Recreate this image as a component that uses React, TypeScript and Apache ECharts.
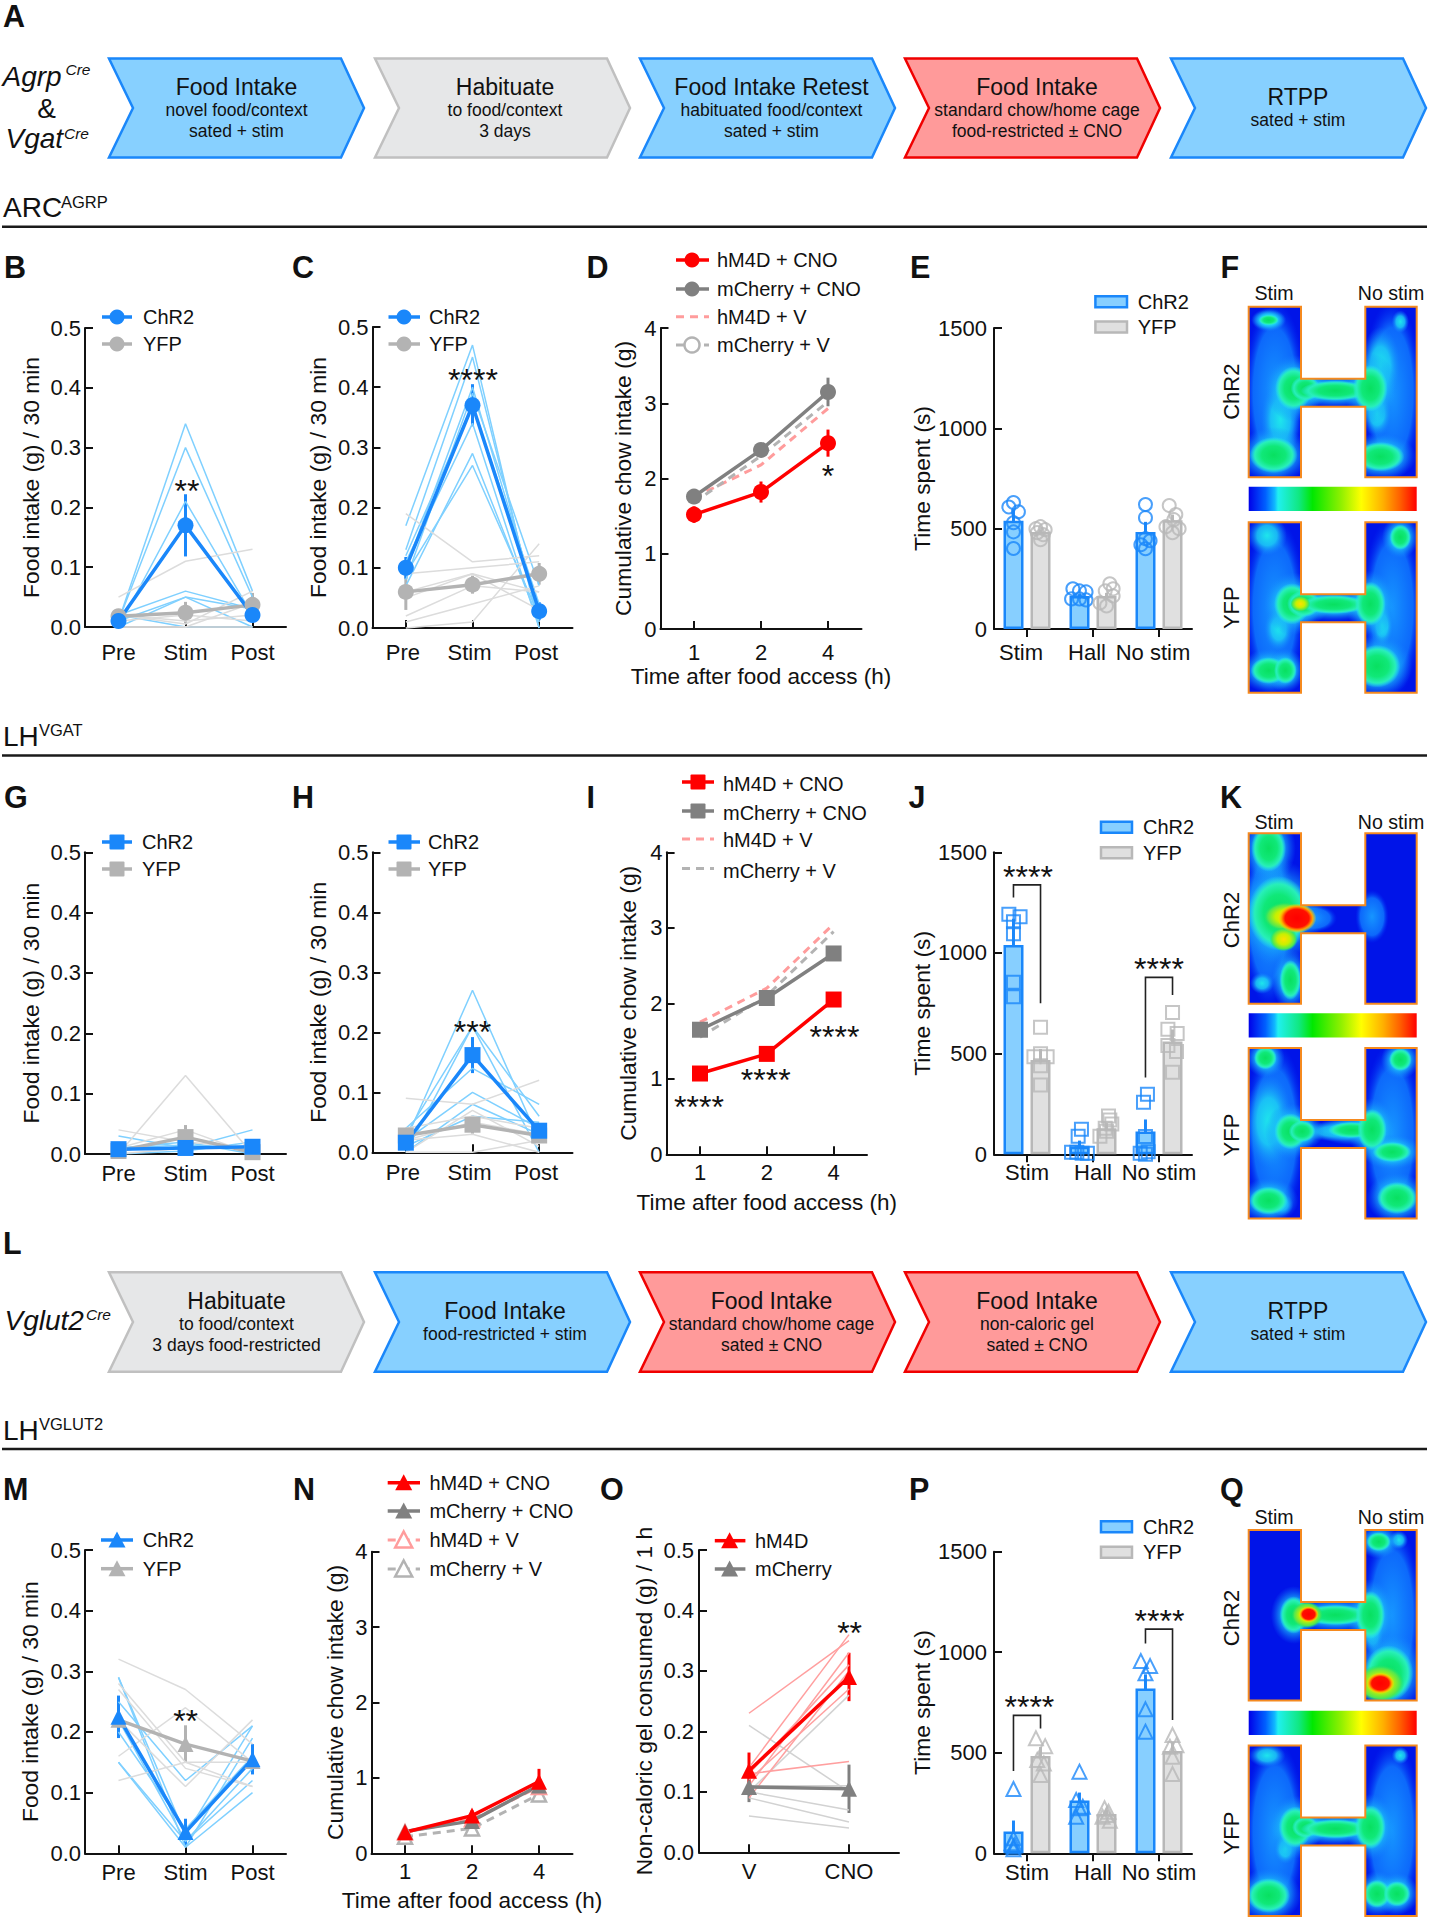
import React, { useEffect, useRef } from "react";
import * as echarts from "echarts";

const FONT = '"Liberation Sans", Arial, Helvetica, sans-serif';
const INK = "#111111";
const BLUE = "#1a87fa";
const LIGHT_BLUE = "#7fd0ff";
const GREY = "#b3b3b3";
const LIGHT_GREY = "#dcdcdc";
const RED = "#ff0000";
const LIGHT_RED = "#ff9f9f";
const DARK = "#808080";
const PINK = "#ff9c9c";

const phases = ["Pre", "Stim", "Post"];
const hours = ["1", "2", "4"];
const zones = ["Stim", "Hall", "No stim"];
const drugs = ["V", "CNO"];

// Panel B
const bChR2Lines = [[0.01, 0.34, 0.06], [0.01, 0.3, 0.05], [0.0, 0.21, 0.02], [0.02, 0.06, 0.03], [0.0, 0.05, 0.0], [0.01, 0.05, 0.03], [0.02, 0.0, 0.0]];
const bYfpLines = [[0.05, 0.11, 0.13], [0.02, 0.01, 0.02], [0.0, 0.0, 0.04], [0.01, 0.02, 0.01], [0.0, 0.0, 0.0], [0.02, 0.005, 0.06]];
const bChR2Mean = [0.01, 0.17, 0.02];
const bChR2Err = [0.006, 0.052, 0.012];
const bYfpMean = [0.018, 0.024, 0.037];
const bYfpErr = [0.01, 0.018, 0.02];
// Panel C
const cChR2Lines = [[0.17, 0.47, 0.0], [0.13, 0.45, 0.01], [0.1, 0.4, 0.03], [0.08, 0.39, 0.07], [0.11, 0.34, 0.0], [0.07, 0.29, 0.01], [0.09, 0.27, 0.02], [0.12, 0.37, 0.04]];
const cYfpLines = [[0.19, 0.11, 0.12], [0.09, 0.1, 0.11], [0.06, 0.09, 0.03], [0.02, 0.07, 0.06], [0.01, 0.04, 0.07], [0.0, 0.01, 0.14], [0.05, 0.09, 0.06]];
const cChR2Mean = [0.1, 0.37, 0.028];
const cChR2Err = [0.018, 0.035, 0.015];
const cYfpMean = [0.06, 0.072, 0.09];
const cYfpErr = [0.03, 0.015, 0.018];
// Panel D
const dRedMean = [1.52, 1.82, 2.47];
const dRedErr = [0.11, 0.14, 0.18];
const dDarkMean = [1.76, 2.38, 3.15];
const dDarkErr = [0.1, 0.08, 0.19];
const dPinkMean = [1.75, 2.18, 2.93];
const dGreyMean = [1.68, 2.3, 3.02];
// Panel E
const eChR2Mean = [540, 164, 484];
const eChR2Err = [55, 10, 50];
const eYfpMean = [484, 165, 542];
const eYfpErr = [12, 15, 28];
const eChR2Pts = [
  [[0, 630], [-0.07, 608], [0.075, 584], [0, 530], [0, 484], [0, 401]],
  [[-0.1, 200], [0, 190], [0.1, 185], [-0.12, 150], [0, 150], [0.1, 145]],
  [[0, 620], [0, 555], [0, 450], [-0.07, 420], [0.07, 440], [0, 400]],
];
const eYfpPts = [
  [[0, 510], [-0.07, 500], [0.07, 495], [-0.05, 480], [0.04, 470], [0, 445]],
  [[0.05, 225], [0.1, 200], [-0.02, 190], [0.1, 165], [-0.1, 130], [0, 115]],
  [[-0.05, 615], [0.05, 570], [0.02, 545], [-0.1, 510], [0, 480], [0.1, 500]],
];
// Panel G
const gChR2Lines = [[0.03, 0.01, 0.04], [0.01, 0.02, 0.0], [0.0, 0.005, 0.02], [0.01, 0.015, 0.01]];
const gYfpLines = [[0.0, 0.13, 0.0], [0.04, 0.02, 0.01], [0.01, 0.04, 0.0], [0.0, 0.01, 0.01]];
const gChR2Mean = [0.008, 0.01, 0.012];
const gChR2Err = [0.004, 0.006, 0.006];
const gYfpMean = [0.005, 0.028, 0.003];
const gYfpErr = [0.004, 0.02, 0.003];
// Panel H
const hChR2Lines = [[0.02, 0.27, 0.02], [0.03, 0.21, 0.0], [0.04, 0.14, 0.08], [0.0, 0.21, 0.06], [0.02, 0.1, 0.04], [0.0, 0.08, 0.03], [0.01, 0.06, 0.05]];
const hYfpLines = [[0.09, 0.08, 0.12], [0.0, 0.07, 0.01], [0.02, 0.05, 0.03], [0.02, 0.03, 0.0], [0.0, 0.0, 0.02], [0.04, 0.06, 0.04]];
const hChR2Mean = [0.016, 0.162, 0.036];
const hChR2Err = [0.01, 0.03, 0.01];
const hYfpMean = [0.028, 0.046, 0.028];
const hYfpErr = [0.01, 0.015, 0.01];
// Panel I
const iRedMean = [1.07, 1.33, 2.05];
const iDarkMean = [1.65, 2.07, 2.66];
const iPinkMean = [1.75, 2.2, 3.05];
const iGreyMean = [1.55, 2.1, 2.95];
const iRedErr = [0.03, 0.03, 0.04];
const iDarkErr = [0.05, 0.04, 0.05];
// Panel J
const jChR2Mean = [1040, 38, 113];
const jChR2Err = [130, 30, 60];
const jYfpMean = [468, 130, 560];
const jYfpErr = [55, 25, 60];
const jChR2Pts = [
  [[-0.07, 1192], [0.1, 1180], [0, 1155], [0, 1095], [0, 855], [0, 783]],
  [[0.03, 125], [-0.02, 90], [-0.12, 10], [-0.04, 10], [0.04, 5], [0.12, 5]],
  [[0.03, 298], [-0.03, 258], [0, 88], [0.04, 13], [-0.08, 5], [0, 0]],
];
const jYfpPts = [
  [[0, 631], [0, 500], [-0.1, 485], [0.1, 485], [0, 440], [0, 344]],
  [[0.03, 190], [0.05, 170], [0.08, 150], [-0.02, 130], [0, 115], [-0.1, 90]],
  [[0, 704], [-0.07, 621], [0.07, 600], [-0.07, 540], [0.06, 510], [0, 407]],
];
const jBrackets = [[0.295, 1276, 1338, 0.705, 750], [2.295, 381, 879, 2.705, 791]];
// Panel M
const mChR2Lines = [[0.29, 0.03, 0.21], [0.29, 0.01, 0.19], [0.22, 0.02, 0.14], [0.15, 0.01, 0.1], [0.15, 0.02, 0.12], [0.25, 0.12, 0.21], [0.2, 0.04, 0.16]];
const mYfpLines = [[0.32, 0.27, 0.18], [0.27, 0.14, 0.11], [0.16, 0.24, 0.15], [0.12, 0.15, 0.15], [0.22, 0.11, 0.22], [0.28, 0.15, 0.11]];
const mChR2Mean = [0.225, 0.035, 0.155];
const mChR2Err = [0.035, 0.022, 0.025];
const mYfpMean = [0.22, 0.18, 0.152];
const mYfpErr = [0.03, 0.031, 0.015];
// Panel N
const nRedMean = [0.28, 0.5, 0.95];
const nRedErr = [0.05, 0.07, 0.17];
const nDarkMean = [0.29, 0.43, 0.9];
const nDarkErr = [0.04, 0.05, 0.1];
const nPinkMean = [0.28, 0.45, 0.88];
const nGreyMean = [0.22, 0.33, 0.78];
// Panel O
const oRedLines = [[0.23, 0.35], [0.13, 0.15], [0.14, 0.36], [0.11, 0.33], [0.09, 0.3], [0.12, 0.27], [0.13, 0.31]];
const oGreyLines = [[0.21, 0.1], [0.1, 0.26], [0.1, 0.07], [0.09, 0.05], [0.06, 0.04], [0.11, 0.11]];
const oRedMean = [0.135, 0.29];
const oRedErr = [0.03, 0.04];
const oDarkMean = [0.108, 0.105];
const oDarkErr = [0.025, 0.04];
// Panel P
const pChR2Mean = [108, 262, 820];
const pChR2Err = [55, 40, 70];
const pYfpMean = [484, 195, 509];
const pYfpErr = [45, 20, 45];
const pChR2Pts = [
  [[0, 320], [0, 75], [-0.03, 50], [0.02, 40], [0, 33], [0, 20]],
  [[0, 406], [-0.05, 265], [0.05, 232], [0, 224], [-0.05, 182]],
  [[-0.07, 956], [0.07, 931], [0, 895], [0, 716], [0, 605]],
];
const pYfpPts = [
  [[-0.07, 572], [0.07, 533], [-0.05, 464], [0.05, 447], [0, 390]],
  [[-0.03, 224], [0.03, 207], [0, 190], [-0.06, 182], [0.05, 162]],
  [[0, 588], [0.06, 538], [-0.04, 530], [0, 480], [0, 394]],
];
const pBrackets = [[0.295, 409, 686, 0.705, 621], [2.295, 1044, 1115, 2.705, 663]];

// Schematic rows
const row1Steps = [
  { kind: "blue", title: "Food Intake", lines: ["novel food/context", "sated + stim"] },
  { kind: "grey", title: "Habituate", lines: ["to food/context", "3 days"] },
  { kind: "blue", title: "Food Intake Retest", lines: ["habituated food/context", "sated + stim"] },
  { kind: "red", title: "Food Intake", lines: ["standard chow/home cage", "food-restricted ± CNO"] },
  { kind: "blue", title: "RTPP", lines: ["sated + stim"] },
];
const row2Steps = [
  { kind: "grey", title: "Habituate", lines: ["to food/context", "3 days food-restricted"] },
  { kind: "blue", title: "Food Intake", lines: ["food-restricted + stim"] },
  { kind: "red", title: "Food Intake", lines: ["standard chow/home cage", "sated ± CNO"] },
  { kind: "red", title: "Food Intake", lines: ["non-caloric gel", "sated ± CNO"] },
  { kind: "blue", title: "RTPP", lines: ["sated + stim"] },
];

// Occupancy blobs: [cx, cy, rx, ry, level], in thirds of a pixel from the H's corner
const fChR2Blobs = [
  [78, 256, 92, 275, "b"], [430, 256, 90, 275, "b"], [60, 40, 50, 30, "c"], [60, 40, 30, 16, "g"], [455, 45, 26, 34, "c"],
  [95, 340, 58, 125, "c"], [385, 320, 44, 72, "c"], [135, 245, 56, 66, "g"], [170, 245, 44, 38, "g"],
  [260, 252, 104, 30, "g"], [365, 245, 52, 70, "g"], [75, 445, 72, 54, "g"], [395, 450, 72, 44, "g"],
  [395, 180, 60, 120, "c"],
];
const fYfpBlobs = [
  [78, 256, 92, 275, "b"], [430, 256, 90, 275, "b"], [55, 40, 60, 60, "c"], [455, 45, 32, 38, "g"],
  [90, 320, 44, 66, "c"], [400, 310, 34, 66, "c"], [130, 245, 54, 62, "g"], [165, 245, 50, 40, "g"],
  [255, 247, 104, 28, "g"], [365, 245, 46, 66, "g"], [60, 445, 54, 40, "g"], [110, 445, 34, 40, "g"],
  [385, 432, 70, 64, "g"], [155, 245, 30, 24, "y"],
];
const kChR2Blobs = [
  [60, 256, 80, 262, "b"], [60, 45, 52, 70, "g"], [90, 240, 92, 112, "g"], [125, 440, 32, 60, "g"],
  [40, 450, 36, 32, "c"], [110, 250, 66, 44, "y"], [105, 318, 42, 36, "y"], [145, 255, 58, 44, "r"],
  [195, 255, 70, 42, "b"], [370, 250, 50, 80, "b"],
];
const kYfpBlobs = [
  [78, 256, 92, 275, "b"], [430, 256, 90, 275, "b"], [50, 30, 34, 34, "g"], [455, 35, 34, 34, "g"],
  [125, 250, 48, 54, "g"], [160, 250, 40, 32, "g"], [260, 250, 104, 30, "c"], [310, 246, 72, 24, "g"],
  [370, 245, 44, 62, "g"], [430, 312, 58, 30, "g"], [60, 458, 58, 42, "g"], [100, 470, 34, 34, "c"],
  [445, 450, 60, 48, "g"], [60, 220, 70, 140, "c"],
];
const qChR2Blobs = [
  [430, 256, 90, 275, "b"], [135, 255, 42, 56, "g"], [260, 255, 104, 30, "g"], [365, 255, 44, 72, "g"],
  [372, 315, 32, 54, "c"], [390, 35, 36, 28, "g"], [450, 30, 28, 28, "c"], [420, 430, 74, 84, "g"],
  [175, 255, 48, 40, "y"], [180, 253, 30, 24, "r"], [395, 460, 72, 56, "y"], [395, 460, 42, 32, "r"],
];
const qYfpBlobs = [
  [78, 256, 92, 275, "b"], [430, 256, 90, 275, "b"], [55, 30, 55, 35, "c"], [455, 30, 26, 26, "c"],
  [110, 310, 34, 46, "c"], [140, 245, 50, 62, "g"], [170, 245, 40, 32, "g"], [260, 250, 104, 28, "g"],
  [365, 245, 46, 66, "g"], [60, 450, 64, 52, "g"], [385, 445, 40, 42, "g"], [445, 445, 40, 38, "g"],
];

const levelOrder = ["b", "c", "g", "y", "r"];
const blobStops = {
  b: [[0, "rgba(22,150,255,1)"], [0.7, "rgba(15,120,255,0.85)"], [1, "rgba(0,50,245,0)"]],
  c: [[0, "rgba(30,230,235,1)"], [0.5, "rgba(28,205,245,0.85)"], [1, "rgba(20,130,255,0)"]],
  g: [[0, "#08e060"], [0.5, "#10e878"], [0.78, "#28efb8"], [1, "rgba(40,235,235,0)"]],
  y: [[0, "#ffe000"], [0.45, "#c8f000"], [0.8, "#50e850"], [1, "rgba(20,225,110,0)"]],
  r: [[0, "#ff0000"], [0.62, "#ff1000"], [0.8, "#ffa000"], [1, "rgba(255,235,0,0)"]],
};
const jetStops = [
  [0, "#0000e8"], [0.1, "#0060ff"], [0.155, "#10b8ff"], [0.175, "#20f0f0"], [0.3, "#10e880"],
  [0.38, "#00e800"], [0.55, "#90f000"], [0.67, "#ffff00"], [0.8, "#ffb000"], [0.9, "#ff6000"], [1, "#ff0000"],
];

const toStops = (s) => s.map(([offset, color]) => ({ offset, color }));

function buildOption() {
  const grids = [];
  const xAxes = [];
  const yAxes = [];
  const series = [];
  const els = [];

  const T = (text, x, y, size, o = {}) =>
    els.push({
      type: "text", x, y, silent: true, z: o.z ?? 30, rotation: o.rot ?? 0,
      style: {
        text, fontFamily: FONT, fontSize: size, fontWeight: o.bold ? "bold" : "normal",
        fontStyle: o.italic ? "italic" : "normal", fill: o.fill ?? INK,
        align: o.align ?? "left", verticalAlign: "middle",
      },
    });

  const baseAxis = () => ({
    gridIndex: grids.length - 1,
    axisLine: { show: true, onZero: false, lineStyle: { color: INK, width: 2 } },
    splitLine: { show: false },
    nameMoveOverlap: false,
  });

  const addAxes = (r, cats, a) => {
    grids.push({ left: r.l, top: r.t, width: r.w, height: r.b - r.t, outerBoundsMode: "none" });
    const g = grids.length - 1;
    xAxes.push({
      ...baseAxis(), type: "category", data: cats,
      axisTick: { show: true, inside: !a.outTick, length: 8, alignWithLabel: true, lineStyle: { color: INK, width: 2 }, ...(a.tickCustom ? { customValues: a.tickCustom } : {}) },
      axisLabel: { interval: 0, hideOverlap: false, fontFamily: FONT, fontSize: 22, color: INK, margin: a.xMargin, padding: a.labelPad ? [0, a.labelPad, 0, 0] : 0 },
      ...(a.xName ? { name: a.xName, nameLocation: "middle", nameGap: a.xGap, nameTextStyle: { fontFamily: FONT, fontSize: 22.5, color: INK } } : {}),
    });
    yAxes.push({
      ...baseAxis(), type: "value", min: 0, max: a.max, interval: a.step,
      axisTick: { show: true, inside: true, length: 8, lineStyle: { color: INK, width: 2 } },
      axisLabel: { fontFamily: FONT, fontSize: 22, color: INK, margin: a.yMargin ?? 4, formatter: (v) => v.toFixed(a.dec) },
      name: a.yName, nameLocation: "middle", nameGap: a.yGap, nameRotate: 90,
      nameTextStyle: { fontFamily: FONT, fontSize: 22.8, color: INK },
    });
    return { x: xAxes.length - 1, y: yAxes.length - 1, g };
  };

  const errRender = (color, w) => (_p, api) => {
    const a = api.coord([api.value(0), api.value(1)]);
    const b = api.coord([api.value(0), api.value(2)]);
    return { type: "line", shape: { x1: a[0], y1: a[1], x2: b[0], y2: b[1] }, style: { stroke: color, lineWidth: w } };
  };
  const addErr = (ax, name, data, color) =>
    series.push({
      type: "custom", name, xAxisIndex: ax.x, yAxisIndex: ax.y, silent: true, clip: false,
      renderItem: errRender(color, 3), encode: { x: 0, y: [1, 2] }, data,
    });
  const lineErr = (ax, name, mean, err, color) =>
    addErr(ax, name, mean.map((m, i) => [i, Math.max(0, m - err[i]), m + err[i]]), color);

  const addThin = (ax, rows, color) =>
    rows.forEach((d) =>
      series.push({
        type: "line", xAxisIndex: ax.x, yAxisIndex: ax.y, data: d, symbol: "none", silent: true, clip: false,
        lineStyle: { color, width: 1.5 }, z: 2,
      }));
  const addMean = (ax, name, d, color, s) =>
    series.push({
      type: "line", name, xAxisIndex: ax.x, yAxisIndex: ax.y, data: d, silent: true, clip: false,
      symbol: s.symbol ?? "none", symbolSize: s.size ?? 16, showSymbol: !!s.symbol,
      lineStyle: { color, width: s.width ?? 3.5, type: s.dash ? [8, 6] : "solid" },
      itemStyle: { color: s.hollow ? "#ffffff" : color, borderColor: color, borderWidth: s.hollow ? 2.5 : 0, opacity: 1 },
    });

  const twoGroup = (r, a, sym, chr, yfp) => {
    const ax = addAxes(r, phases, { max: 0.5, step: 0.1, dec: 1, yName: "Food intake (g) / 30 min", yGap: a.yGap ?? 43, labelPad: a.labelPad, xMargin: a.xMargin });
    addThin(ax, chr.lines, LIGHT_BLUE);
    addThin(ax, yfp.lines, LIGHT_GREY);
    lineErr(ax, "YFP SEM", yfp.mean, yfp.err, GREY);
    addMean(ax, "YFP", yfp.mean, GREY, { symbol: sym });
    lineErr(ax, "ChR2 SEM", chr.mean, chr.err, BLUE);
    addMean(ax, "ChR2", chr.mean, BLUE, { symbol: sym });
  };

  const BAR_OFF = 0.205;
  const barPanel = (r, a, chr, yfp) => {
    const ax = addAxes(r, zones, { max: 1500, step: 500, dec: 0, outTick: true, yName: "Time spent (s)", yGap: 61, yMargin: 7, labelPad: a.labelPad, xMargin: a.xMargin });
    xAxes.push({ type: "value", gridIndex: ax.g, min: 0, max: 3, show: false, position: "top" });
    const hx = xAxes.length - 1;
    const hidden = { x: hx, y: ax.y };
    [[chr, "ChR2", "#87cfff", BLUE], [yfp, "YFP", "#e0e0e0", "#b8b8b8"]].forEach(([v, name, fill, stroke]) =>
      series.push({
        type: "bar", name, xAxisIndex: ax.x, yAxisIndex: ax.y, data: v.mean, barWidth: 20, barGap: "35%", silent: true,
        itemStyle: { color: fill, borderColor: stroke, borderWidth: 2.5 },
      }));
    [[chr, "ChR2", BLUE, -BAR_OFF], [yfp, "YFP", "#b8b8b8", BAR_OFF]].forEach(([v, name, stroke, off]) => {
      addErr(hidden, name + " SEM", v.mean.map((m, i) => [i + 0.5 + off, Math.max(0, m - v.err[i]), m + v.err[i]]), stroke);
      series.push({
        type: "scatter", name: name + " mice", xAxisIndex: hx, yAxisIndex: ax.y, silent: true, clip: false,
        symbol: a.symbol, symbolSize: a.size ?? 13,
        data: v.pts.flatMap((grp, i) => grp.map(([d, val]) => [i + 0.5 + off + d, val])),
        itemStyle: { color: "rgba(0,0,0,0)", borderColor: stroke, borderWidth: 2 },
      });
    });
    (a.brackets ?? []).forEach((b) =>
      series.push({
        type: "custom", name: "bracket", xAxisIndex: hx, yAxisIndex: ax.y, silent: true, clip: false,
        encode: { x: 0, y: 1 }, data: [[b[0], b[1], b[2], b[3], b[4]]],
        renderItem: (_p, api) => {
          const xL = api.value(0), yL = api.value(1), yT = api.value(2), xR = api.value(3), yR = api.value(4);
          const pts = [[xL, yL], [xL, yT], [xR, yT], [xR, yR]].map((c) => api.coord(c));
          return { type: "polyline", shape: { points: pts }, style: { stroke: "#222222", fill: "none", lineWidth: 1.6 } };
        },
      }));
  };

  // ---- line panels
  twoGroup({ l: 85, w: 201, t: 328, b: 627 }, { xMargin: 14 }, "circle", { lines: bChR2Lines, mean: bChR2Mean, err: bChR2Err }, { lines: bYfpLines, mean: bYfpMean, err: bYfpErr });
  twoGroup({ l: 372.5, w: 200, t: 327, b: 628 }, { labelPad: 6, xMargin: 13 }, "circle", { lines: cChR2Lines, mean: cChR2Mean, err: cChR2Err }, { lines: cYfpLines, mean: cYfpMean, err: cYfpErr });
  twoGroup({ l: 85, w: 201, t: 852.3, b: 1154 }, { xMargin: 8 }, "rect", { lines: gChR2Lines, mean: gChR2Mean, err: gChR2Err }, { lines: gYfpLines, mean: gYfpMean, err: gYfpErr });
  twoGroup({ l: 372.5, w: 200, t: 852.3, b: 1152.3 }, { labelPad: 6, xMargin: 9.5 }, "rect", { lines: hChR2Lines, mean: hChR2Mean, err: hChR2Err }, { lines: hYfpLines, mean: hYfpMean, err: hYfpErr });
  twoGroup({ l: 85, w: 201, t: 1550, b: 1853.3 }, { yGap: 44, xMargin: 8 }, "triangle", { lines: mChR2Lines, mean: mChR2Mean, err: mChR2Err }, { lines: mYfpLines, mean: mYfpMean, err: mYfpErr });

  const chowName = "Cumulative chow intake (g)";
  const timeName = "Time after food access (h)";
  const dAx = addAxes({ l: 660.5, w: 201, t: 328, b: 629 }, hours, { max: 4, step: 1, dec: 0, yName: chowName, yGap: 26, xName: timeName, xGap: 36, xMargin: 12 });
  addMean(dAx, "hM4D + V", dPinkMean, PINK, { dash: true, width: 3 });
  addMean(dAx, "mCherry + V", dGreyMean, GREY, { dash: true, width: 3 });
  lineErr(dAx, "mCherry + CNO SEM", dDarkMean, dDarkErr, DARK);
  addMean(dAx, "mCherry + CNO", dDarkMean, DARK, { symbol: "circle" });
  lineErr(dAx, "hM4D + CNO SEM", dRedMean, dRedErr, RED);
  addMean(dAx, "hM4D + CNO", dRedMean, RED, { symbol: "circle" });

  const iAx = addAxes({ l: 666.6, w: 200.4, t: 852.3, b: 1154.3 }, hours, { max: 4, step: 1, dec: 0, yName: chowName, yGap: 27, xName: timeName, xGap: 37, xMargin: 7.5, tickCustom: [0, 1, 2.22] });
  addMean(iAx, "hM4D + V", iPinkMean, PINK, { dash: true, width: 3 });
  addMean(iAx, "mCherry + V", iGreyMean, GREY, { dash: true, width: 3 });
  lineErr(iAx, "mCherry + CNO SEM", iDarkMean, iDarkErr, DARK);
  addMean(iAx, "mCherry + CNO", iDarkMean, DARK, { symbol: "rect" });
  lineErr(iAx, "hM4D + CNO SEM", iRedMean, iRedErr, RED);
  addMean(iAx, "hM4D + CNO", iRedMean, RED, { symbol: "rect" });

  const nAx = addAxes({ l: 371.5, w: 201, t: 1551.7, b: 1853.3 }, hours, { max: 4, step: 1, dec: 0, yName: chowName, yGap: 25, xName: timeName, xGap: 36, xMargin: 7.5 });
  addMean(nAx, "mCherry + V", nGreyMean, GREY, { dash: true, width: 3, symbol: "triangle", hollow: true, size: 14 });
  addMean(nAx, "hM4D + V", nPinkMean, PINK, { dash: true, width: 3, symbol: "triangle", hollow: true, size: 14 });
  lineErr(nAx, "mCherry + CNO SEM", nDarkMean, nDarkErr, DARK);
  addMean(nAx, "mCherry + CNO", nDarkMean, DARK, { symbol: "triangle" });
  lineErr(nAx, "hM4D + CNO SEM", nRedMean, nRedErr, RED);
  addMean(nAx, "hM4D + CNO", nRedMean, RED, { symbol: "triangle" });

  const oAx = addAxes({ l: 699, w: 200, t: 1550, b: 1852.3 }, drugs, { max: 0.5, step: 0.1, dec: 1, yName: "Non-caloric gel consumed (g) / 1 h", yGap: 44, yMargin: 5, xMargin: 8.5 });
  addThin(oAx, oGreyLines, "#d2d2d2");
  addThin(oAx, oRedLines, LIGHT_RED);
  lineErr(oAx, "mCherry SEM", oDarkMean, oDarkErr, DARK);
  addMean(oAx, "mCherry", oDarkMean, DARK, { symbol: "triangle" });
  lineErr(oAx, "hM4D SEM", oRedMean, oRedErr, RED);
  addMean(oAx, "hM4D", oRedMean, RED, { symbol: "triangle" });

  // ---- bar panels
  barPanel({ l: 994, w: 198, t: 328, b: 629 }, { symbol: "circle", labelPad: 12, xMargin: 12 }, { mean: eChR2Mean, err: eChR2Err, pts: eChR2Pts }, { mean: eYfpMean, err: eYfpErr, pts: eYfpPts });
  barPanel({ l: 994, w: 198, t: 852.3, b: 1154.3 }, { symbol: "rect", brackets: jBrackets, xMargin: 7.5 }, { mean: jChR2Mean, err: jChR2Err, pts: jChR2Pts }, { mean: jYfpMean, err: jYfpErr, pts: jYfpPts });
  barPanel({ l: 994, w: 198, t: 1551.7, b: 1853.3 }, { symbol: "triangle", brackets: pBrackets, size: 14, xMargin: 8 }, { mean: pChR2Mean, err: pChR2Err, pts: pChR2Pts }, { mean: pYfpMean, err: pYfpErr, pts: pYfpPts });

  // ---- schematic arrows
  const kinds = {
    blue: { fill: "#87d0ff", stroke: "#1a87fa" },
    grey: { fill: "#e6e7e8", stroke: "#c0c0c0" },
    red: { fill: "#ff9a9a", stroke: "#f00000" },
  };
  const lefts = [109, 375, 640, 905, 1171];
  const centers = [236.5, 505, 771.5, 1037, 1298];
  const drawRow = (steps, top, bot) =>
    steps.forEach((st, i) => {
      const L = lefts[i], mid = (top + bot) / 2, k = kinds[st.kind];
      els.push({
        type: "polygon", silent: true, z: 5,
        shape: { points: [[L, top], [L + 232, top], [L + 255, mid], [L + 232, bot], [L, bot], [L + 24, mid]] },
        style: { fill: k.fill, stroke: k.stroke, lineWidth: 2.5 },
      });
      const c = centers[i];
      if (st.lines.length === 2) {
        T(st.title, c, mid - 21, 23, { align: "center" });
        T(st.lines[0], c, mid + 2, 17.5, { align: "center" });
        T(st.lines[1], c, mid + 23, 17.5, { align: "center" });
      } else {
        T(st.title, c, mid - 11, 23, { align: "center" });
        T(st.lines[0], c, mid + 12, 17.5, { align: "center" });
      }
    });
  drawRow(row1Steps, 58.5, 157.5);
  drawRow(row2Steps, 1272.3, 1371.7);

  T("Agrp", 2.5, 76.5, 28, { italic: true });
  T("Cre", 65.5, 69.5, 15.5, { italic: true });
  T("&", 46.5, 108, 28, { align: "center" });
  T("Vgat", 5.5, 138, 28, { italic: true });
  T("Cre", 64, 133.5, 15.5, { italic: true });
  T("Vglut2", 4.5, 1320, 28, { italic: true });
  T("Cre", 86, 1314, 15.5, { italic: true });

  // ---- section headers
  const section = (main, sup, xSup, yMain, ySup, yRule) => {
    T(main, 3, yMain, 28);
    T(sup, xSup, ySup, 16.5);
    els.push({ type: "line", silent: true, z: 5, shape: { x1: 2, y1: yRule, x2: 1427, y2: yRule }, style: { stroke: "#1a1a1a", lineWidth: 2.5 } });
  };
  section("ARC", "AGRP", 61, 207, 201.5, 226.7);
  section("LH", "VGAT", 39, 736, 730, 755.5);
  section("LH", "VGLUT2", 39, 1430, 1424, 1449);

  // ---- panel letters
  const letters = [
    ["A", 3, 16], ["B", 4, 266.7], ["C", 292, 266.7], ["D", 586.5, 266.7], ["E", 910, 266.7], ["F", 1220.5, 266.7],
    ["G", 4, 796.7], ["H", 292, 796.7], ["I", 586.5, 796.7], ["J", 908.6, 796.7], ["K", 1220, 796.7],
    ["L", 3, 1243], ["M", 3, 1489], ["N", 293, 1489], ["O", 600, 1489], ["P", 909, 1489], ["Q", 1220, 1489],
  ];
  letters.forEach(([t, x, y]) => T(t, x, y, 30.5, { bold: true }));

  // ---- stars (the glyph sits above the middle of its line box)
  const star = (t, x, y) => T(t, x, y + 5, 32, { align: "center", z: 40 });
  star("**", 187, 486);
  star("****", 473, 375);
  star("*", 828, 470.7);
  star("***", 472.5, 1027);
  star("****", 699, 1101.7);
  star("****", 765.7, 1075);
  star("****", 834.5, 1031.7);
  star("****", 1028, 871.7);
  star("****", 1159, 964);
  star("**", 185.6, 1716);
  star("**", 849.6, 1628);
  star("****", 1029.4, 1702);
  star("****", 1159.5, 1615.7);

  // ---- legends
  const sym = (shape, cx, cy, color, hollow, s = 15) => {
    const style = hollow ? { fill: "#ffffff", stroke: color, lineWidth: 2.5 } : { fill: color };
    if (shape === "circle") els.push({ type: "circle", silent: true, z: 31, shape: { cx, cy, r: s / 2 }, style });
    else if (shape === "rect") els.push({ type: "rect", silent: true, z: 31, shape: { x: cx - s / 2, y: cy - s / 2, width: s, height: s, r: 1 }, style });
    else els.push({ type: "polygon", silent: true, z: 31, shape: { points: [[cx, cy - s / 2 - 1], [cx + s / 2 + 1, cy + s / 2], [cx - s / 2 - 1, cy + s / 2]] }, style });
  };
  const lineKey = (label, x1, x2, mx, tx, y, color, o = {}) => {
    els.push({ type: "line", silent: true, z: 30, shape: { x1, y1: y, x2, y2: y }, style: { stroke: color, lineWidth: o.dash ? 3 : 3.5, lineDash: o.dash ? [8, 6] : null } });
    if (o.shape) sym(o.shape, mx, y, color, o.hollow);
    T(label, tx, y + (o.ty ?? 0), 20);
  };
  const barKey = (label, x1, x2, tx, y, fill, stroke) => {
    els.push({ type: "rect", silent: true, z: 30, shape: { x: x1, y: y - 5.5, width: x2 - x1, height: 11 }, style: { fill, stroke, lineWidth: 2.5 } });
    T(label, tx, y, 20);
  };

  [[102, 132, 117, 143, 317, 344, "circle"], [388.5, 420, 404, 429, 317, 344, "circle"], [102, 132, 117, 142, 842, 869, "rect"], [388.5, 420, 404, 428, 842, 869, "rect"], [101, 133, 117, 142.7, 1540, 1568.7, "triangle"]].forEach(([a, b, m, t, y1, y2, s]) => {
    lineKey("ChR2", a, b, m, t, y1, BLUE, { shape: s });
    lineKey("YFP", a, b, m, t, y2, GREY, { shape: s });
  });
  lineKey("hM4D + CNO", 676, 709, 692, 717, 260, RED, { shape: "circle" });
  lineKey("mCherry + CNO", 676, 709, 692, 717, 289, DARK, { shape: "circle" });
  lineKey("hM4D + V", 676, 709, 692, 717, 316.7, PINK, { dash: true });
  lineKey("mCherry + V", 676, 709, 692, 717, 345, GREY, { dash: true, shape: "circle", hollow: true });
  lineKey("hM4D + CNO", 682, 714, 698, 723, 782, RED, { shape: "rect", ty: 2 });
  lineKey("mCherry + CNO", 682, 714, 698, 723, 811, DARK, { shape: "rect", ty: 2 });
  lineKey("hM4D + V", 682, 714, 698, 723, 839, PINK, { dash: true, ty: 1 });
  lineKey("mCherry + V", 682, 714, 698, 723, 868.5, GREY, { dash: true, ty: 2 });
  lineKey("hM4D + CNO", 387.7, 420, 403.7, 429.4, 1482.7, RED, { shape: "triangle" });
  lineKey("mCherry + CNO", 387.7, 420, 403.7, 429.4, 1511, DARK, { shape: "triangle" });
  lineKey("hM4D + V", 387.7, 420, 403.7, 429.4, 1540, PINK, { dash: true, shape: "triangle", hollow: true });
  lineKey("mCherry + V", 387.7, 420, 403.7, 429.4, 1569, GREY, { dash: true, shape: "triangle", hollow: true });
  lineKey("hM4D", 714.8, 745.4, 729.6, 755, 1540.7, RED, { shape: "triangle" });
  lineKey("mCherry", 714.8, 745.4, 729.6, 755, 1569, DARK, { shape: "triangle" });
  barKey("ChR2", 1095.4, 1127, 1137.7, 301.7, "#87cfff", BLUE);
  barKey("YFP", 1095.4, 1127, 1137.7, 327, "#e0e0e0", "#b8b8b8");
  barKey("ChR2", 1101, 1132, 1143, 827.3, "#87cfff", BLUE);
  barKey("YFP", 1101, 1132, 1143, 852.7, "#e0e0e0", "#b8b8b8");
  barKey("ChR2", 1101, 1132, 1143, 1526.7, "#87cfff", BLUE);
  barKey("YFP", 1101, 1132, 1143, 1552.3, "#e0e0e0", "#b8b8b8");

  // ---- H-maze occupancy maps
  const HX = 1248.7;
  const hMap = (top, blobs) => {
    const W = 168, H = 170.5, arm = 52.3, gap = 64.3, c1 = 72, c2 = 100, pad = 22;
    els.push({ type: "rect", silent: true, z: 6, shape: { x: HX, y: top, width: W, height: H }, style: { fill: "#0014e8" } });
    const halos = blobs.filter((b) => b[4] === "g").map(([cx, cy, rx, ry]) => [cx, cy, rx * 1.3 + 14, ry * 1.3 + 14, "c"]);
    const all = [...blobs, ...halos].sort((p, q) => levelOrder.indexOf(p[4]) - levelOrder.indexOf(q[4]));
    all.forEach(([cx, cy, rx, ry, lvl]) =>
      els.push({
        type: "ellipse", silent: true, z: 6,
        shape: { cx: HX + cx / 3, cy: top + cy / 3, rx: rx / 3, ry: ry / 3 },
        style: { fill: { type: "radial", x: 0.5, y: 0.5, r: 0.5, colorStops: toStops(blobStops[lvl]) } },
      }));
    [[HX + arm, top - 1, gap, c1 + 1], [HX + arm, top + c2, gap, H - c2 + 1], [HX - 14, top - pad, 14, H + 2 * pad], [HX + W, top - pad, 12, H + 2 * pad], [HX - 14, top - pad, W + 26, pad], [HX - 14, top + H, W + 26, pad]].forEach(([x, y, width, height]) =>
      els.push({ type: "rect", silent: true, z: 6, shape: { x, y, width, height }, style: { fill: "#ffffff" } }));
    els.push({
      type: "polygon", silent: true, z: 7,
      shape: {
        points: [[HX, top], [HX + arm, top], [HX + arm, top + c1], [HX + arm + gap, top + c1], [HX + arm + gap, top], [HX + W, top], [HX + W, top + H],
          [HX + arm + gap, top + H], [HX + arm + gap, top + c2], [HX + arm, top + c2], [HX + arm, top + H], [HX, top + H]],
      },
      style: { fill: "none", stroke: "#f58a1f", lineWidth: 2 },
    });
  };
  const colorbar = (y) =>
    els.push({
      type: "rect", silent: true, z: 8, shape: { x: HX, y, width: 168, height: 24.3 },
      style: { fill: { type: "linear", x: 0, y: 0, x2: 1, y2: 0, colorStops: toStops(jetStops) } },
    });
  hMap(306.7, fChR2Blobs);
  hMap(522.2, fYfpBlobs);
  hMap(833.3, kChR2Blobs);
  hMap(1048, kYfpBlobs);
  hMap(1530, qChR2Blobs);
  hMap(1745.5, qYfpBlobs);
  colorbar(486.7);
  colorbar(1013.3);
  colorbar(1710.7);

  [[293, 391.7, 607.7], [821.7, 920, 1135], [1517, 1618, 1833]].forEach(([yHead, y1, y2]) => {
    T("Stim", 1274, yHead, 19.6, { align: "center" });
    T("No stim", 1391, yHead, 19.6, { align: "center" });
    T("ChR2", 1231, y1, 22, { align: "center", rot: Math.PI / 2 });
    T("YFP", 1231, y2, 22, { align: "center", rot: Math.PI / 2 });
  });

  return {
    animation: false,
    backgroundColor: "#ffffff",
    textStyle: { fontFamily: FONT },
    grid: grids,
    xAxis: xAxes,
    yAxis: yAxes,
    series,
    graphic: { elements: els },
  };
}

export default function App() {
  const ref = useRef(null);
  useEffect(() => {
    const chart = echarts.init(ref.current, null, { renderer: "svg" });
    chart.setOption(buildOption());
    return () => chart.dispose();
  }, []);
  return <div ref={ref} style={{ position: "absolute", left: 0, top: 0, width: 1429, height: 1920 }} />;
}
